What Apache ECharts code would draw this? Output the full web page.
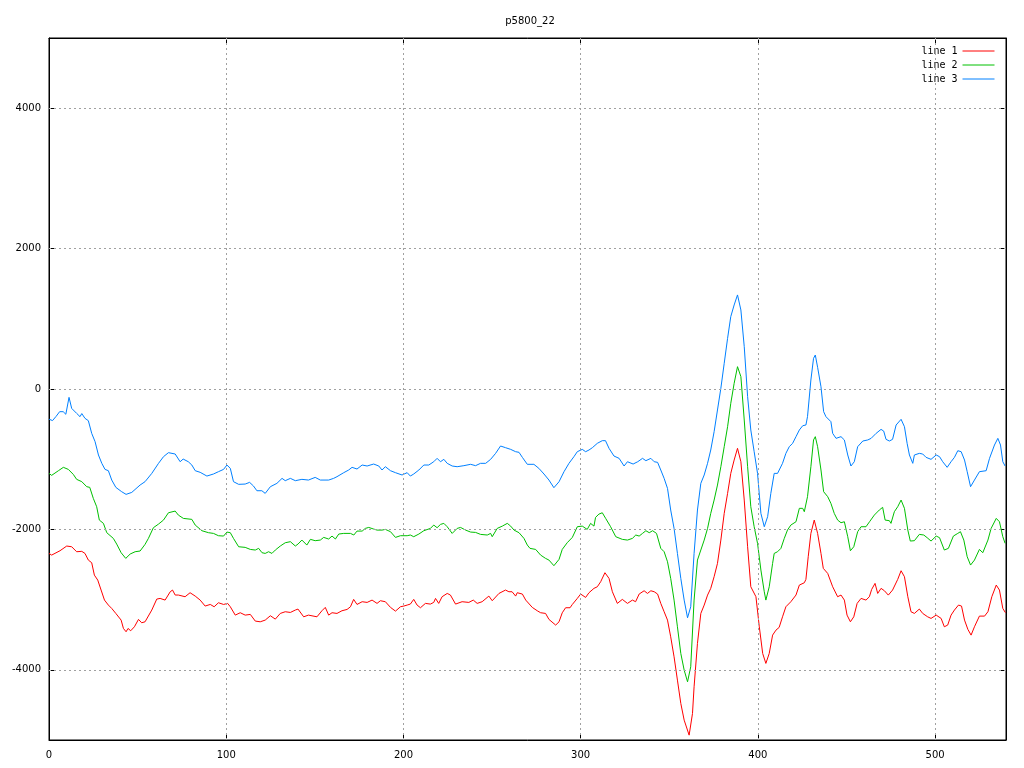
<!DOCTYPE html>
<html>
<head>
<meta charset="utf-8">
<script src="https://cdn.jsdelivr.net/npm/echarts@6/dist/echarts.min.js"></script>
<style>html,body{margin:0;padding:0;background:#fff}#c{width:1024px;height:768px}</style>
</head>
<body>
<div id="c"></div>
<script>
const chartTitle = 'p5800_22';
const seriesNames = ['line 1', 'line 2', 'line 3'];
const xTicks = [0, 100, 200, 300, 400, 500];
const yTicks = [-4000, -2000, 0, 2000, 4000];
const xGrid = [100, 200, 300, 400, 500];
const yGrid = [-4000, -2000, 0, 2000, 4000];

const line1 = [[0,-2342],[1.5,-2366],[6.2,-2304],[10,-2237],[12.8,-2247],[15.6,-2318],[18.5,-2313],[20.3,-2342],[22.2,-2437],[24.1,-2475],[25.6,-2651],[27.5,-2722],[29.4,-2864],[31.3,-3007],[33.5,-3078],[35.4,-3126],[37.7,-3197],[40.7,-3292],[42,-3411],[43.5,-3458],[44.6,-3411],[46.1,-3444],[48.2,-3387],[50.5,-3282],[52.3,-3330],[54.2,-3316],[58,-3149],[60.8,-2993],[62.7,-2983],[65.5,-3007],[68.4,-2888],[69.7,-2864],[71.2,-2935],[73,-2935],[76.8,-2959],[79.6,-2902],[82.5,-2950],[85.3,-3007],[88.1,-3092],[91,-3069],[93.2,-3102],[95.6,-3045],[98.5,-3069],[100.8,-3054],[102.3,-3102],[105.1,-3221],[107.9,-3187],[110.7,-3221],[113.6,-3211],[116.4,-3306],[119.2,-3316],[122,-3292],[124.9,-3230],[127.7,-3278],[130.5,-3197],[133.3,-3173],[136.2,-3183],[139,-3149],[140.5,-3135],[143.7,-3245],[146.4,-3221],[151.2,-3245],[154,-3159],[155.9,-3111],[157.8,-3221],[159.7,-3187],[162.5,-3197],[165.3,-3159],[168.2,-3140],[170.1,-3102],[171.9,-2997],[173.8,-3069],[176.7,-3030],[179.5,-3040],[182.3,-3007],[185.1,-3054],[187,-3016],[189.8,-3030],[192.7,-3111],[195.5,-3164],[198.3,-3102],[200.2,-3092],[202.1,-3078],[203.9,-3064],[205.8,-2997],[207.7,-3078],[209.6,-3116],[212.4,-3054],[215.2,-3064],[217.1,-3040],[218.1,-2983],[219.9,-3054],[221.8,-2959],[224.7,-2912],[226.5,-2935],[229.4,-3064],[233.1,-3030],[236.9,-3040],[239.4,-3007],[241.6,-3054],[244.4,-3030],[248.2,-2950],[250.1,-3016],[253.9,-2912],[257.6,-2864],[259.5,-2888],[261.3,-2888],[262.3,-2902],[263.3,-2950],[264.2,-2902],[267.1,-2921],[269,-3007],[272.7,-3111],[275.5,-3159],[277.4,-3187],[280.2,-3197],[282.1,-3282],[283,-3292],[285.9,-3363],[287.8,-3316],[289.6,-3188],[291.5,-3116],[294,-3116],[295.3,-3069],[298.1,-2983],[300,-2921],[302.8,-2969],[304.7,-2902],[307.5,-2840],[309.4,-2817],[311.3,-2745],[313.7,-2617],[316,-2698],[317.9,-2888],[320.7,-3054],[323.5,-2997],[326.4,-3054],[329.2,-3007],[331,-3030],[333,-2921],[335.8,-2874],[337.7,-2912],[339.6,-2874],[341.5,-2888],[343.4,-2921],[345.2,-3054],[347.1,-3173],[349,-3292],[350.8,-3530],[352.7,-3815],[354.6,-4147],[356.5,-4479],[358.4,-4717],[361.2,-4931],[363.1,-4622],[364,-4242],[365.9,-3624],[367.8,-3197],[369.7,-3078],[371.6,-2936],[373.4,-2840],[375.3,-2674],[377.2,-2484],[379.1,-2152],[381,-1772],[382.9,-1487],[384.7,-1202],[386.6,-1012],[388.5,-845],[390.4,-1036],[392.3,-1582],[394.2,-2247],[396,-2817],[398.9,-2959],[400.8,-3387],[402.7,-3767],[404.5,-3909],[406.4,-3767],[408.3,-3506],[410.2,-3435],[412,-3396],[413.9,-3245],[415.8,-3102],[418.6,-3030],[421.5,-2935],[423.4,-2793],[426.2,-2760],[427.1,-2712],[428.4,-2389],[429.9,-2057],[431.8,-1867],[433.7,-2057],[435.6,-2342],[436.9,-2555],[439.4,-2627],[442.2,-2817],[445,-2959],[446.9,-2935],[448.8,-3007],[450.3,-3221],[452.2,-3316],[454.1,-3245],[456,-3054],[458.2,-2983],[461,-3007],[462.9,-2959],[464.2,-2855],[466.1,-2769],[467.6,-2912],[469.5,-2840],[471.4,-2874],[473.6,-2936],[476,-2864],[478.9,-2712],[480.8,-2589],[482.7,-2674],[484.6,-2959],[486.4,-3173],[488.3,-3197],[491.1,-3135],[493,-3197],[495.8,-3245],[497.7,-3268],[500.6,-3221],[503.4,-3268],[505.2,-3387],[507.1,-3363],[509,-3221],[510.9,-3149],[513.2,-3078],[514.9,-3092],[516.6,-3292],[518.5,-3425],[520.3,-3506],[522.2,-3387],[525,-3235],[527.9,-3235],[529.8,-3173],[532,-2959],[534.5,-2793],[536.3,-2864],[538.2,-3126],[539.7,-3187]];

const line2 = [[0,-1202],[1.5,-1230],[5.3,-1164],[8.1,-1116],[10.9,-1145],[13.7,-1216],[15.6,-1287],[18.5,-1320],[21.3,-1392],[23,-1401],[25,-1558],[26.9,-1677],[28.4,-1867],[30.7,-1914],[32.6,-2047],[36.3,-2128],[38.2,-2209],[40.7,-2332],[43.3,-2413],[45.8,-2351],[48.6,-2318],[51.4,-2308],[54.2,-2213],[56.1,-2128],[58.9,-1976],[61.8,-1924],[64.6,-1867],[67.4,-1763],[71.2,-1739],[73,-1796],[75.8,-1843],[80.6,-1857],[82.5,-1938],[86.3,-2019],[90,-2047],[92.8,-2057],[95.6,-2090],[98.5,-2095],[100.4,-2038],[102.3,-2047],[104.1,-2128],[107,-2247],[110.7,-2256],[113.6,-2285],[116.4,-2294],[118.3,-2270],[120.2,-2332],[122,-2342],[123.9,-2318],[125.8,-2342],[127.7,-2294],[130.5,-2237],[133.3,-2190],[136.2,-2175],[139,-2237],[140.5,-2209],[142.7,-2152],[145.5,-2223],[147.5,-2142],[150.2,-2161],[153.1,-2152],[155,-2114],[157.8,-2137],[159.7,-2095],[161.6,-2137],[163.5,-2066],[166.3,-2057],[170.1,-2057],[172,-2080],[173.8,-2024],[176.7,-2024],[178.5,-1986],[180.4,-1972],[183.2,-1995],[185.1,-2010],[187.9,-2010],[189.8,-2000],[192.7,-2033],[195.5,-2114],[198.3,-2090],[202.1,-2090],[203.9,-2080],[205.8,-2104],[208.7,-2066],[211.5,-2019],[212.4,-1995],[215.2,-1986],[217.1,-1938],[219,-1976],[220.9,-1929],[222.8,-1914],[224.7,-1962],[227.5,-2057],[230.3,-1986],[232.2,-1972],[235.1,-2010],[237.9,-2038],[240.7,-2043],[243.5,-2071],[247.3,-2080],[249.2,-2057],[250.1,-2104],[252.9,-1986],[255.8,-1953],[258.6,-1914],[260.5,-1953],[262.4,-2010],[265.2,-2047],[268,-2128],[269.9,-2223],[271.4,-2270],[274.6,-2285],[277.4,-2366],[280.2,-2413],[282.1,-2437],[284.9,-2517],[287.8,-2427],[289.6,-2285],[292.4,-2190],[295.3,-2114],[298.1,-1962],[300.9,-1953],[303.7,-2000],[305.6,-1914],[307.5,-1953],[308.4,-1829],[310.3,-1782],[312.2,-1763],[314.1,-1843],[316.9,-1962],[319.8,-2104],[323.5,-2142],[326.4,-2152],[329.2,-2128],[331.1,-2080],[333,-2095],[334.9,-2057],[336.8,-2019],[338.7,-2047],[340.6,-2019],[342.8,-2057],[345.2,-2270],[347.1,-2318],[349,-2461],[350.8,-2698],[352.7,-3007],[354.6,-3387],[356.5,-3767],[358.4,-4004],[360.3,-4171],[362.1,-3957],[364,-3007],[365.9,-2437],[367.8,-2294],[369.7,-2152],[371.6,-1986],[373.4,-1772],[375.3,-1582],[377.2,-1368],[379.1,-1107],[381,-822],[382.9,-537],[384.7,-204],[386.6,81],[388.5,318],[390.4,176],[392.3,-442],[394.2,-1107],[396,-1677],[397.9,-1962],[399.8,-2199],[401.7,-2579],[403.6,-2888],[404.5,-3007],[406.4,-2817],[408.3,-2484],[409.2,-2342],[411.1,-2318],[413,-2270],[414.9,-2128],[416.7,-2009],[418.6,-1938],[421.5,-1891],[423.4,-1700],[425.3,-1700],[426.2,-1748],[428,-1534],[429.9,-1107],[431.4,-726],[432.4,-679],[433.7,-822],[435.6,-1154],[437.1,-1463],[439.4,-1534],[441.2,-1629],[443.1,-1772],[445,-1867],[446.9,-1905],[448.8,-1891],[450.7,-2104],[452.2,-2304],[454.1,-2247],[456.3,-2033],[458.2,-1962],[461,-1962],[463,-1891],[465.7,-1796],[468.5,-1724],[470.4,-1686],[471.8,-1867],[474.2,-1876],[475.1,-1914],[477,-1748],[478.9,-1677],[480.8,-1582],[482.7,-1700],[484.6,-2009],[486,-2166],[488.3,-2161],[491.1,-2071],[493.6,-2080],[495.5,-2118],[497.7,-2166],[500.6,-2095],[502.5,-2118],[505.2,-2294],[507.5,-2270],[510.3,-2095],[512.8,-2057],[514.3,-2033],[516.2,-2152],[518.1,-2389],[520,-2508],[522.2,-2437],[525,-2285],[526.9,-2332],[529.8,-2152],[531.6,-1986],[534.5,-1843],[536.3,-1891],[538.2,-2104],[539.5,-2199]];

const line3 = [[0,-430],[2,-450],[4,-390],[6,-323],[8,-323],[9.5,-360],[11.3,-119],[12.8,-276],[15.6,-347],[17.5,-394],[18.5,-350],[20.3,-418],[22.2,-451],[24.1,-632],[26,-750],[27.9,-940],[29.8,-1059],[31.6,-1145],[33.5,-1164],[35.4,-1297],[37.7,-1401],[41,-1463],[43.5,-1501],[46.7,-1473],[51.4,-1368],[54.2,-1320],[58,-1202],[61.8,-1059],[64.6,-964],[67.4,-907],[71.2,-926],[74,-1036],[75.7,-998],[78.6,-1036],[80.6,-1083],[82.5,-1164],[85.3,-1187],[89.1,-1240],[92.8,-1211],[95.6,-1178],[98.5,-1145],[100.4,-1083],[102.3,-1130],[104.1,-1320],[107,-1358],[110.7,-1354],[113.2,-1330],[115.4,-1382],[117.3,-1449],[120.1,-1449],[122,-1487],[124.9,-1392],[128.6,-1344],[131.5,-1273],[133.3,-1306],[136.2,-1273],[139,-1306],[142.7,-1287],[146.4,-1297],[150.2,-1259],[153.1,-1297],[157.8,-1297],[160.6,-1273],[162.5,-1249],[166.3,-1192],[169.1,-1154],[171,-1116],[173.8,-1140],[176.7,-1083],[179.5,-1097],[183.2,-1069],[186.1,-1097],[187.9,-1154],[189.8,-1107],[192.7,-1164],[195.5,-1192],[199.2,-1225],[202.1,-1192],[203.9,-1240],[205.8,-1211],[208.7,-1154],[211.5,-1083],[212.4,-1059],[214.3,-1083],[217.1,-1036],[219,-988],[220.9,-1036],[222.8,-1002],[224.7,-1059],[227.5,-1097],[230.3,-1107],[234.1,-1092],[237.9,-1073],[240.7,-1092],[243.5,-1059],[246.4,-1059],[249.2,-1002],[252,-917],[254.8,-812],[257.6,-836],[260.5,-860],[263.3,-893],[265.2,-902],[267.1,-974],[269.9,-1073],[273.6,-1073],[274.6,-1050],[276.4,-1130],[279.3,-1211],[282.1,-1297],[284.9,-1406],[287.8,-1321],[290.6,-1178],[293.4,-1059],[296.2,-964],[298.1,-893],[300.9,-860],[302.8,-893],[304.7,-869],[306.6,-836],[309.4,-774],[312.2,-736],[314,-736],[316,-845],[318.8,-955],[321.7,-988],[324.5,-1097],[326.4,-1036],[329.6,-1069],[332.2,-1036],[334.9,-988],[336.8,-1021],[339.6,-988],[341.5,-1036],[343.4,-1045],[345.2,-1154],[347.1,-1273],[349,-1416],[350.8,-1724],[352.7,-1986],[354.6,-2342],[356.5,-2698],[358.4,-3007],[360.3,-3259],[362.1,-3102],[364,-2342],[365.9,-1724],[367.8,-1344],[369.7,-1225],[371.6,-1059],[373.4,-869],[375.3,-608],[377.2,-299],[379.1,10],[381,366],[382.9,722],[384.7,1031],[386.6,1197],[388.5,1340],[390.4,1126],[392.3,603],[394.2,-109],[396,-584],[397.9,-893],[399.8,-1202],[401.7,-1772],[403.6,-1962],[405.5,-1819],[407.3,-1487],[409.2,-1202],[411.1,-1202],[412,-1225],[413.9,-1059],[415.8,-917],[417.7,-822],[419.6,-774],[421.5,-679],[423.4,-584],[425.3,-523],[427.1,-513],[428,-394],[429.9,128],[431.4,437],[432.4,484],[433.7,309],[435.6,32],[437.1,-323],[438.4,-394],[441.2,-465],[442.2,-632],[444.1,-703],[446.9,-679],[448.8,-726],[450.7,-940],[452.5,-1097],[454.4,-1036],[456.3,-822],[459.2,-741],[462,-726],[463.9,-703],[466.7,-632],[469.5,-575],[471,-600],[472.3,-717],[474.2,-741],[476,-717],[478,-513],[480.8,-432],[482.7,-537],[484.2,-774],[485.5,-940],[487.4,-1059],[488.3,-940],[491.1,-917],[493,-926],[494.9,-974],[497.7,-1002],[500.6,-940],[502.5,-964],[504.3,-1036],[506.8,-1116],[509,-1036],[510.9,-974],[512.8,-879],[514.7,-893],[516.6,-1012],[518.1,-1178],[520,-1392],[522.2,-1297],[525,-1178],[528.8,-1164],[530.7,-988],[533.5,-798],[535.4,-703],[536.9,-798],[538.2,-1036],[539.5,-1097]];

const colors = ['#ff0000', '#00c000', '#0080ff'];
const lines = [line1, line2, line3];

const font = 'DejaVu Sans';
const tickStyle = { show: true, inside: true, length: 6, lineStyle: { color: '#000', width: 1 } };

const chart = echarts.init(document.getElementById('c'), null, { renderer: 'canvas' });

const gridLineStyle = { color: '#a0a0a0', width: 1, type: [2, 3] };

const series = [{
  type: 'line',
  data: [],
  silent: true,
  z: 1,
  markLine: {
    silent: true,
    symbol: ['none', 'none'],
    label: { show: false },
    lineStyle: gridLineStyle,
    emphasis: { disabled: true },
    animation: false,
    data: xGrid.map(v => ({ xAxis: v })).concat(yGrid.map(v => ({ yAxis: v })))
  }
}].concat(lines.map((d, i) => ({
  name: seriesNames[i],
  type: 'line',
  data: d,
  symbol: 'none',
  showSymbol: false,
  z: 3,
  color: colors[i],
  lineStyle: { color: colors[i], width: 1 },
  itemStyle: { color: colors[i] },
  emphasis: { disabled: true },
  animation: false
})));

chart.setOption({
  animation: false,
  backgroundColor: '#fff',
  title: {
    text: chartTitle,
    left: 525,
    top: 11,
    textAlign: 'center',
    textStyle: { fontFamily: font, fontSize: 10, fontWeight: 'normal', color: '#000' }
  },
  legend: {
    data: seriesNames,
    orient: 'vertical',
    right: 24,
    top: 41,
    align: 'right',
    itemWidth: 32,
    itemHeight: 10,
    itemGap: 4,
    itemStyle: { opacity: 0, borderWidth: 0 },
    lineStyle: { width: 1 },
    textStyle: { fontFamily: 'DejaVu Sans Mono', fontSize: 10, color: '#000' }
  },
  grid: {
    left: 49, right: 18, top: 38, bottom: 28,
    show: true, borderColor: '#000', borderWidth: 1, backgroundColor: 'transparent',
    containLabel: false
  },
  xAxis: [{
    type: 'value', min: 0, max: 540, interval: 100,
    axisLine: { show: true, onZero: false, lineStyle: { color: '#000', width: 1 } },
    axisTick: Object.assign({ customValues: xTicks }, tickStyle),
    axisLabel: { customValues: xTicks, margin: 10, fontFamily: font, fontSize: 10, color: '#000', formatter: v => String(v) },
    splitLine: { show: false }
  }, {
    type: 'value', min: 0, max: 540, interval: 100, position: 'top',
    axisLine: { show: true, onZero: false, lineStyle: { color: '#000', width: 1 } },
    axisTick: Object.assign({ customValues: xTicks }, tickStyle),
    axisLabel: { show: false },
    splitLine: { show: false }
  }],
  yAxis: [{
    type: 'value', min: -5000, max: 5000, interval: 1000,
    axisLine: { show: true, onZero: false, lineStyle: { color: '#000', width: 1 } },
    axisTick: Object.assign({ customValues: yTicks }, tickStyle),
    axisLabel: { customValues: yTicks, margin: 8, fontFamily: font, fontSize: 10, color: '#000', formatter: v => String(v) },
    splitLine: { show: false }
  }, {
    type: 'value', min: -5000, max: 5000, interval: 1000, position: 'right',
    axisLine: { show: true, onZero: false, lineStyle: { color: '#000', width: 1 } },
    axisTick: Object.assign({ customValues: yTicks }, tickStyle),
    axisLabel: { show: false },
    splitLine: { show: false }
  }],
  series: series
});
</script>
</body>
</html>
